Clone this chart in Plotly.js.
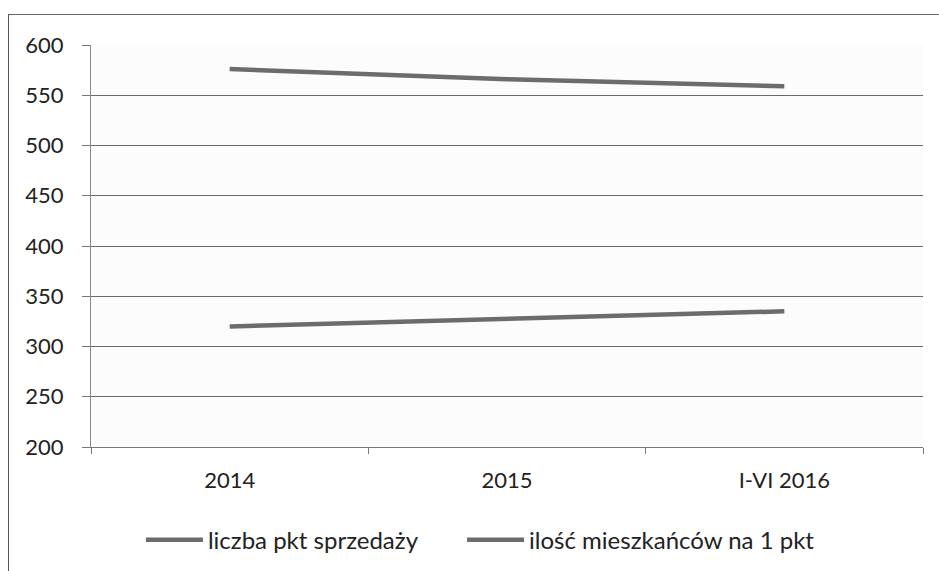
<!DOCTYPE html>
<html>
<head>
<meta charset="utf-8">
<script src="https://cdn.plot.ly/plotly-3.0.1.min.js"></script>
<style>
html,body{margin:0;padding:0;background:#fff;}
#frame{position:absolute;left:8px;top:14px;width:940px;height:570px;border-left:1.5px solid #555;border-top:1.5px solid #666;}
#chart{position:absolute;left:0;top:0;width:939px;height:571px;}
</style>
</head>
<body>
<div id="frame"></div>
<div id="chart"></div>
<script>
const categories = ['2014', '2015', 'I-VI 2016'];
const seriesNames = ['liczba pkt sprzedaży', 'ilość mieszkańców na 1 pkt'];
const liczbaPkt = [320, 328, 335];
const mieszkancowNaPkt = [576, 566, 559];

const lineStyle = {color: '#6c6c6c', width: 4.5};
const traces = [
  {x: categories, y: liczbaPkt, name: seriesNames[0], type: 'scatter', mode: 'lines', line: lineStyle, legend: 'legend'},
  {x: categories, y: mieszkancowNaPkt, name: seriesNames[1], type: 'scatter', mode: 'lines', line: lineStyle, legend: 'legend2'}
];

const fam = 'Lato, Calibri, "Open Sans", sans-serif';
const legendBase = {orientation: 'h', xanchor: 'left', y: -0.232, yanchor: 'middle',
                    font: {family: fam, size: 24, color: '#222'}, itemwidth: 57,
                    bgcolor: 'rgba(0,0,0,0)'};
const layout = {
  width: 939, height: 571,
  margin: {l: 91, r: 16, t: 45, b: 124, autoexpand: false},
  paper_bgcolor: 'rgba(0,0,0,0)',
  plot_bgcolor: '#fcfcfc',
  font: {family: fam, color: '#222'},
  showlegend: true,
  legend: Object.assign({}, legendBase, {x: 0.060}),
  legend2: Object.assign({}, legendBase, {x: 0.446}),
  xaxis: {
    type: 'category', range: [-0.5, 2.5], automargin: false,
    showline: true, linecolor: '#777', linewidth: 1,
    ticks: 'outside', tickson: 'boundaries', ticklen: 6, tickcolor: '#777',
    ticklabelstandoff: 14,
    showgrid: false, tickfont: {family: fam, size: 22, color: '#222'}
  },
  yaxis: {
    range: [200, 600], dtick: 50, tick0: 200, automargin: false,
    showline: true, linecolor: '#888', linewidth: 1,
    ticks: 'outside', ticklen: 8, tickcolor: '#777',
    ticklabelstandoff: 14,
    showgrid: true, gridcolor: '#6a6a6a', gridwidth: 1,
    zeroline: false,
    tickfont: {family: fam, size: 22, color: '#222'}
  }
};
Plotly.newPlot('chart', traces, layout, {displayModeBar: false, staticPlot: true});
</script>
</body>
</html>
